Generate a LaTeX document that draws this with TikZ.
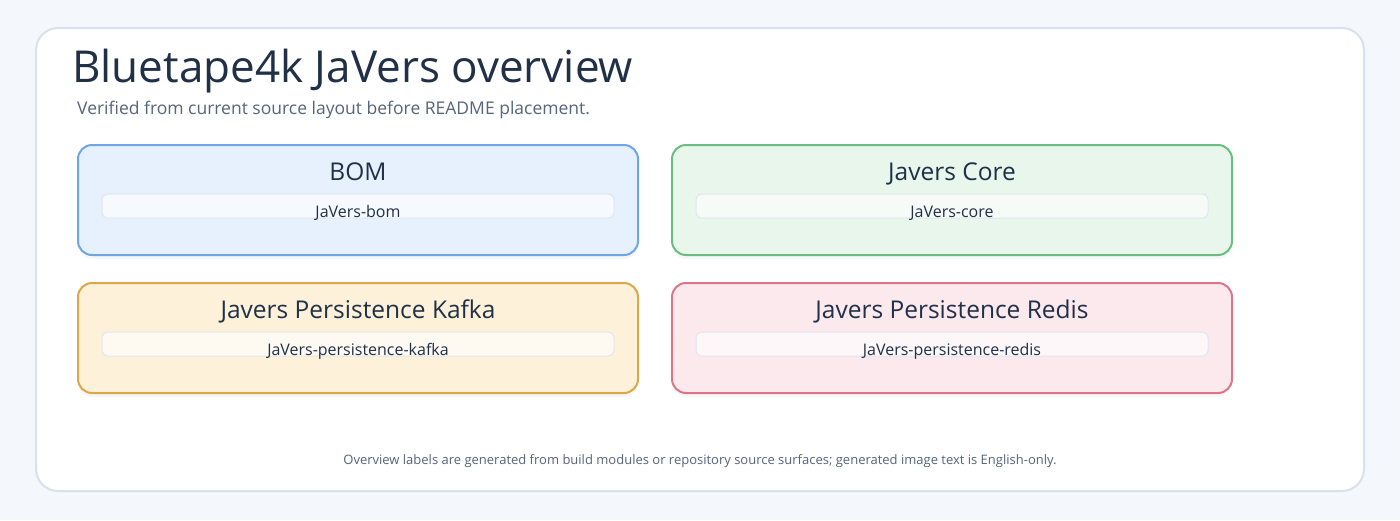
\documentclass[tikz,border=0pt]{standalone}
\usepackage{fontspec}
\setmainfont{Open Sans}
\usetikzlibrary{positioning,shadows}
\definecolor{pagebg}{HTML}{F4F7FB}
\definecolor{cardline}{HTML}{D9E2EC}
\definecolor{inkdark}{HTML}{1F3047}
\definecolor{inkmuted}{HTML}{56657A}
\definecolor{barline}{HTML}{E0E6EE}
\definecolor{bomblue}{HTML}{6EA6E6}
\definecolor{bomfill}{HTML}{E7F1FD}
\definecolor{coregreen}{HTML}{6ABF80}
\definecolor{corefill}{HTML}{E8F6EC}
\definecolor{kafkaorange}{HTML}{DDA748}
\definecolor{kafkafill}{HTML}{FEF1D9}
\definecolor{redisrose}{HTML}{DD7588}
\definecolor{redisfill}{HTML}{FCE9EE}
\tikzset{
    % Module frame styles
    module/.style={
        rectangle, draw=#1, line width=2pt,
        minimum width=560pt, minimum height=110pt,
        rounded corners=14pt,
        drop shadow={opacity=0.07, shadow xshift=0pt, shadow yshift=-4pt}
    },
    modtitle/.style={
        anchor=base, text=inkdark, font=\fontsize{24.5}{28}\selectfont, inner sep=0pt
    },
    artifact/.style={
        rectangle, draw=barline, line width=1pt, fill=white, fill opacity=0.65,
        minimum width=512pt, minimum height=24pt, inner sep=0pt,
        rounded corners=6pt
    },
    artlabel/.style={
        anchor=base, text=inkdark, inner sep=0pt, font=\fontsize{16}{19}\selectfont
    }
}

\begin{document}
\begin{tikzpicture}[x=1pt,y=-1pt]

% Page and card
\fill[pagebg] (0,0) rectangle (1400,520);
\useasboundingbox (0,0) rectangle (1400,520);
\node[rectangle, draw=cardline, line width=2pt, fill=white, rounded corners=22pt,
      minimum width=1328pt, minimum height=463pt] (card) at (700,259.5) {};

% Heading
\node[anchor=base west, text=inkdark, inner sep=0pt, font=\fontsize{44}{52}\selectfont] (title) at (72,82) {Bluetape4k JaVers overview};
\node[anchor=base west, text=inkmuted, inner sep=0pt, font=\fontsize{17.5}{21}\selectfont] (subtitle) at (77,114) {Verified from current source layout before README placement.};

% Module boxes
\node[module=bomblue, fill=bomfill] (bom) at (358,200) {};
\node[module=coregreen, fill=corefill] (core) at (952,200) {};
\node[module=kafkaorange, fill=kafkafill] (kafka) at (358,338) {};
\node[module=redisrose, fill=redisfill] (redis) at (952,338) {};

% Titles and artifacts
\node[modtitle] (bomtitle) at ([yshift=-36pt]bom.north) {BOM};
\node[artifact] (bombar) at ([yshift=-62pt]bom.north) {};
\node[artlabel] (bomart) at ([yshift=-73pt]bom.north) {JaVers-bom};
\node[modtitle] (coretitle) at ([yshift=-36pt]core.north) {Javers Core};
\node[artifact] (corebar) at ([yshift=-62pt]core.north) {};
\node[artlabel] (coreart) at ([yshift=-73pt]core.north) {JaVers-core};
\node[modtitle] (kafkatitle) at ([yshift=-36pt]kafka.north) {Javers Persistence Kafka};
\node[artifact] (kafkabar) at ([yshift=-62pt]kafka.north) {};
\node[artlabel] (kafkaart) at ([yshift=-73pt]kafka.north) {JaVers-persistence-kafka};
\node[modtitle] (redistitle) at ([yshift=-36pt]redis.north) {Javers Persistence Redis};
\node[artifact] (redisbar) at ([yshift=-62pt]redis.north) {};
\node[artlabel] (redisart) at ([yshift=-73pt]redis.north) {JaVers-persistence-redis};

% Footer
\node[text=inkmuted, inner sep=0pt, font=\fontsize{13}{16}\selectfont] (footer) at (700,461) {Overview labels are generated from build modules or repository source surfaces; generated image text is English-only.};

\end{tikzpicture}
\end{document}
